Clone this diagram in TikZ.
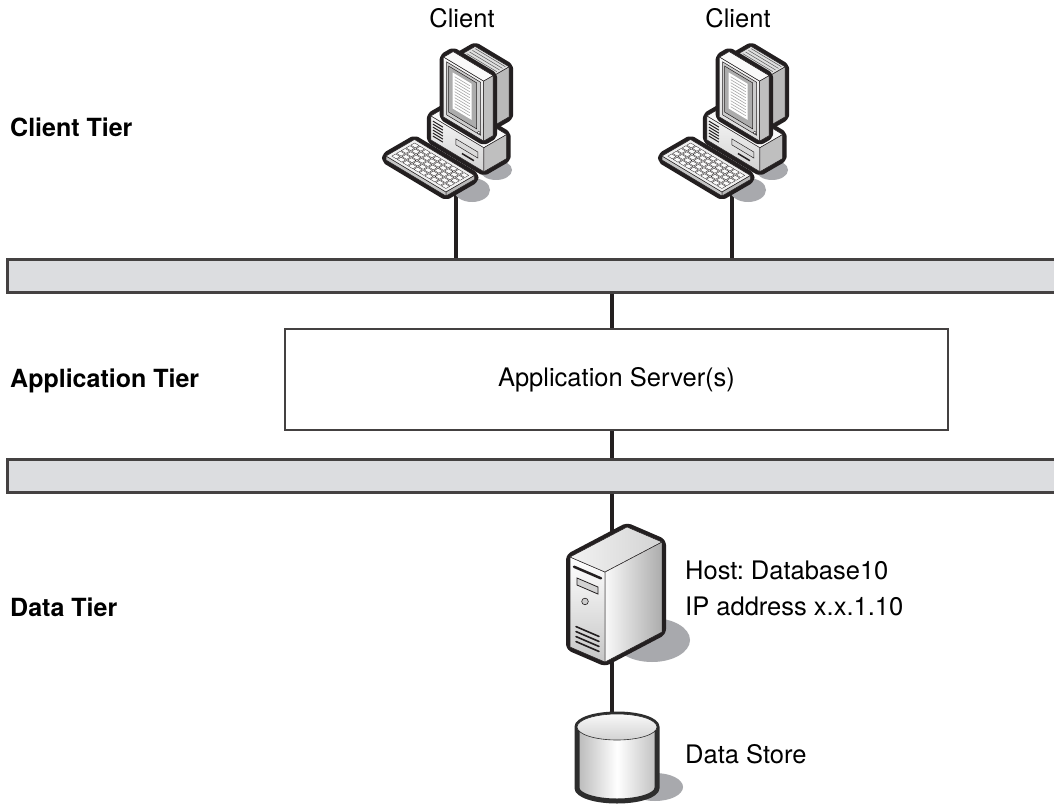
\documentclass[tikz,border=0pt]{standalone}
\usepackage{fontspec}
\setmainfont{TeX Gyre Heros}
\usetikzlibrary{positioning}
\frenchspacing

\definecolor{ink}{RGB}{35,31,32}
\definecolor{lanfill}{RGB}{220,221,224}
\definecolor{shadowgray}{RGB}{168,169,173}

% isometric box: x0 x1 y0 y1 z0 z1, faces take the current face styles
\newcommand{\isobox}[6]{%
  \draw[box outline] (#1,#3,#5) -- (#2,#3,#5) -- (#2,#3,#6) -- (#2,#4,#6)
    -- (#1,#4,#6) -- (#1,#4,#5) -- cycle;
  \draw[front face] (#1,#3,#5) -- (#2,#3,#5) -- (#2,#4,#5) -- (#1,#4,#5) -- cycle;
  \draw[top face] (#1,#4,#5) -- (#2,#4,#5) -- (#2,#4,#6) -- (#1,#4,#6) -- cycle;
  \draw[side face] (#2,#3,#5) -- (#2,#3,#6) -- (#2,#4,#6) -- (#2,#4,#5) -- cycle;
}

\tikzset{
  box outline/.style={draw=ink, line width=8pt, line join=round, rounded corners=2pt},
  front face/.style={draw=ink, line width=.5pt, fill=gray!15},
  top face/.style={draw=ink, line width=.5pt, fill=gray!5},
  side face/.style={draw=ink, line width=.5pt, fill=gray!45},
  iso/.style={x={(1pt,-0.6pt)}, y={(0pt,1pt)}, z={(0.95pt,0.55pt)}},
  % desktop PC: origin where the cable leaves the keyboard
  client pc/.pic={
    \fill[shadowgray] (16,-10) ellipse [x radius=18, y radius=12];
    \fill[shadowgray] (40,-30) ellipse [x radius=16, y radius=10];
    \begin{scope}[shift={(-70,-40)}, iso]
      % system unit
      \begin{scope}[front face/.style={draw=ink, line width=.5pt, top color=gray!8, bottom color=gray!35},
                    side face/.style={draw=ink, line width=.5pt, fill=gray!50}]
        \isobox{5}{58}{0}{24}{42}{66}
        \foreach \v in {5,8,...,20}
          \draw[ink, line width=1pt] (7,\v,42) -- (17,\v,42);
        \draw[ink, line width=.5pt, fill=gray!30] (30,10,42) -- (52,10,42) -- (52,16,42) -- (30,16,42) -- cycle;
        \draw[ink, line width=1.5pt] (36,5,42) -- (48,5,42);
      \end{scope}
      % tube housing
      \begin{scope}[side face/.style={draw=ink, line width=.5pt, fill=gray!55},
                    top face/.style={draw=ink, line width=.5pt, fill=gray!25}]
        \isobox{17}{51}{32}{82}{56}{76}
        \foreach \w in {59,62,...,74}
          \draw[gray!70!black, line width=.5pt] (19,82,\w) -- (49,82,\w);
      \end{scope}
      % bezel and screen
      \begin{scope}[front face/.style={draw=ink, line width=.5pt, top color=gray!5, bottom color=gray!30},
                    side face/.style={draw=ink, line width=.5pt, fill=gray!50}]
        \isobox{14}{54}{26}{86}{46}{56}
      \end{scope}
      \draw[ink, line width=.5pt, fill=gray!40] (17,30,46) -- (51,30,46) -- (51,83,46) -- (17,83,46) -- cycle;
      \draw[ink, line width=.5pt, fill=gray!65] (19,34,46) -- (47,34,46) -- (47,80,46) -- (19,80,46) -- cycle;
      \fill[white] (23,40,46) -- (42,40,46) -- (42,76,46) -- (23,76,46) -- cycle;
      \foreach \v in {43,46,...,73}
        \draw[gray!70, line width=.6pt] (25,\v,46) -- (40,\v,46);
      \draw[ink, line width=.4pt, fill=white] (49,31.5,46) circle [radius=1.5pt];
      % keyboard
      \begin{scope}[front face/.style={draw=ink, line width=.5pt, fill=gray!45},
                    side face/.style={draw=ink, line width=.5pt, fill=gray!55},
                    top face/.style={draw=ink, line width=.5pt, fill=gray!12}]
        \isobox{0}{60}{0}{4}{0}{30}
      \end{scope}
      \foreach \i in {0,...,9}
        \foreach \j in {0,...,4}
          \draw[ink, line width=.3pt, fill=gray!4]
            ({3+\i*5.5},4,{3+\j*5}) -- ++(4.5,0,0) -- ++(0,0,4) -- ++(-4.5,0,0) -- cycle;
    \end{scope}
  },
  % tower server: origin at the centre of its node
  db server/.pic={
    \fill[shadowgray] (40,49) ellipse [x radius=38, y radius=22];
    \begin{scope}[shift={(-42,56)}, x={(1pt,-0.43pt)}, y={(0pt,1pt)}, z={(0.95pt,0.5pt)},
                  box outline/.style={draw=ink, line width=8pt, line join=round, rounded corners=3pt},
                  front face/.style={draw=ink, line width=.5pt, top color=white, bottom color=gray!45},
                  top face/.style={draw=ink, line width=.5pt, left color=gray!10, right color=gray!35},
                  side face/.style={draw=ink, line width=.5pt, left color=gray!5, right color=gray!65}]
      \isobox{0}{35}{0}{90}{0}{60}
      \draw[ink, line width=2.5pt, line cap=round] (4,82,0) -- (31,82,0);
      \draw[ink, line width=.8pt, fill=gray!35] (7,65,0) -- (28,65,0) -- (28,72,0) -- (7,72,0) -- cycle;
      \draw[ink, line width=.6pt, fill=gray!40] (15,52,0) circle [radius=3.3pt];
      \foreach \v in {8,13,18,23}
        \draw[ink, line width=1.6pt, line cap=round] (6,\v,0) -- (29,\v,0);
    \end{scope}
  },
  % disk cylinder: origin at the centre of its node
  data store/.pic={
    \fill[shadowgray] (38,30) ellipse [x radius=28, y radius=14];
    \draw[draw=gray!35!black, line width=5pt, left color=gray!55, right color=gray!50, middle color=white]
      (-40,-30) -- (-40,31) arc [start angle=180, end angle=0, x radius=40, y radius=13]
      -- (40,-30) arc [start angle=0, end angle=-180, x radius=40, y radius=13] -- cycle;
    \draw[draw=gray!35!black, line width=.6pt, top color=gray!5, bottom color=gray!35]
      (0,-30) ellipse [x radius=40, y radius=13];
  }
}

\begin{document}
\begin{tikzpicture}[x=1pt, y=-1pt,
  lan/.style={draw=ink!85, line width=3pt, fill=lanfill, minimum width=1053pt,
    minimum height=33pt, inner sep=0pt},
  appbox/.style={draw=ink!85, line width=2pt, minimum width=663pt, minimum height=101pt,
    font={\fontsize{25.5}{30}\selectfont}},
  link/.style={draw=ink, line width=4pt},
  icon/.style={inner sep=0pt, outer sep=0pt},
  tier/.style={anchor=base west, inner sep=0pt, font={\fontsize{25}{30}\selectfont\bfseries}},
  tag/.style={anchor=base west, inner sep=0pt, font={\fontsize{25.5}{36}\selectfont}}
]
\path[use as bounding box, fill=white] (0,0) rectangle (1054,805);

% tier labels
\node[tier] at (10,137) {Client Tier};
\node[tier] at (10,387) {Application Tier};
\node[tier] at (10,616) {Data Tier};

% network segments and application servers
\node[lan] (lan1) at (533.5,275.5) {};
\node[lan] (lan2) at (533.5,475.5) {};
\node[appbox] (appsrv) at (616.5,379.5) {Application Server(s)};
\coordinate (trunk) at (612,0);

% room for the icons
\node[icon, minimum width=140pt, minimum height=150pt, anchor=south] (client1) at (456,200) {};
\node[icon, minimum width=140pt, minimum height=150pt, anchor=south] (client2) at (732,200) {};
\node[icon, minimum width=94pt, minimum height=138pt] (db) at (612,591) {};
\node[icon, minimum width=80pt, minimum height=86pt] (store) at (617,757) {};

\node[tag, anchor=base] at (462,28) {Client};
\node[tag, anchor=base] at (738,28) {Client};

% cabling
\draw[link] ([yshift=10pt]client1.south) -- (client1.south |- lan1.north);
\draw[link] ([yshift=10pt]client2.south) -- (client2.south |- lan1.north);
\draw[link] (lan1.south -| trunk) -- (appsrv.north -| trunk);
\draw[link] (appsrv.south -| trunk) -- (lan2.north -| trunk);
\draw[link] (lan2.south -| trunk) -- ([yshift=-10pt]db.north);
\draw[link] ([yshift=10pt]db.south) -- (db.south |- store.north);

% equipment
\pic at (client1.south) {client pc};
\pic at (client2.south) {client pc};
\pic at (db.center) {db server};
\pic at (store.center) {data store};

\node[tag, align=left, anchor=west] at (685,588) {Host: Database10\\IP address x.x.1.10};
\node[tag] at (685,763) {Data Store};
\end{tikzpicture}
\end{document}
